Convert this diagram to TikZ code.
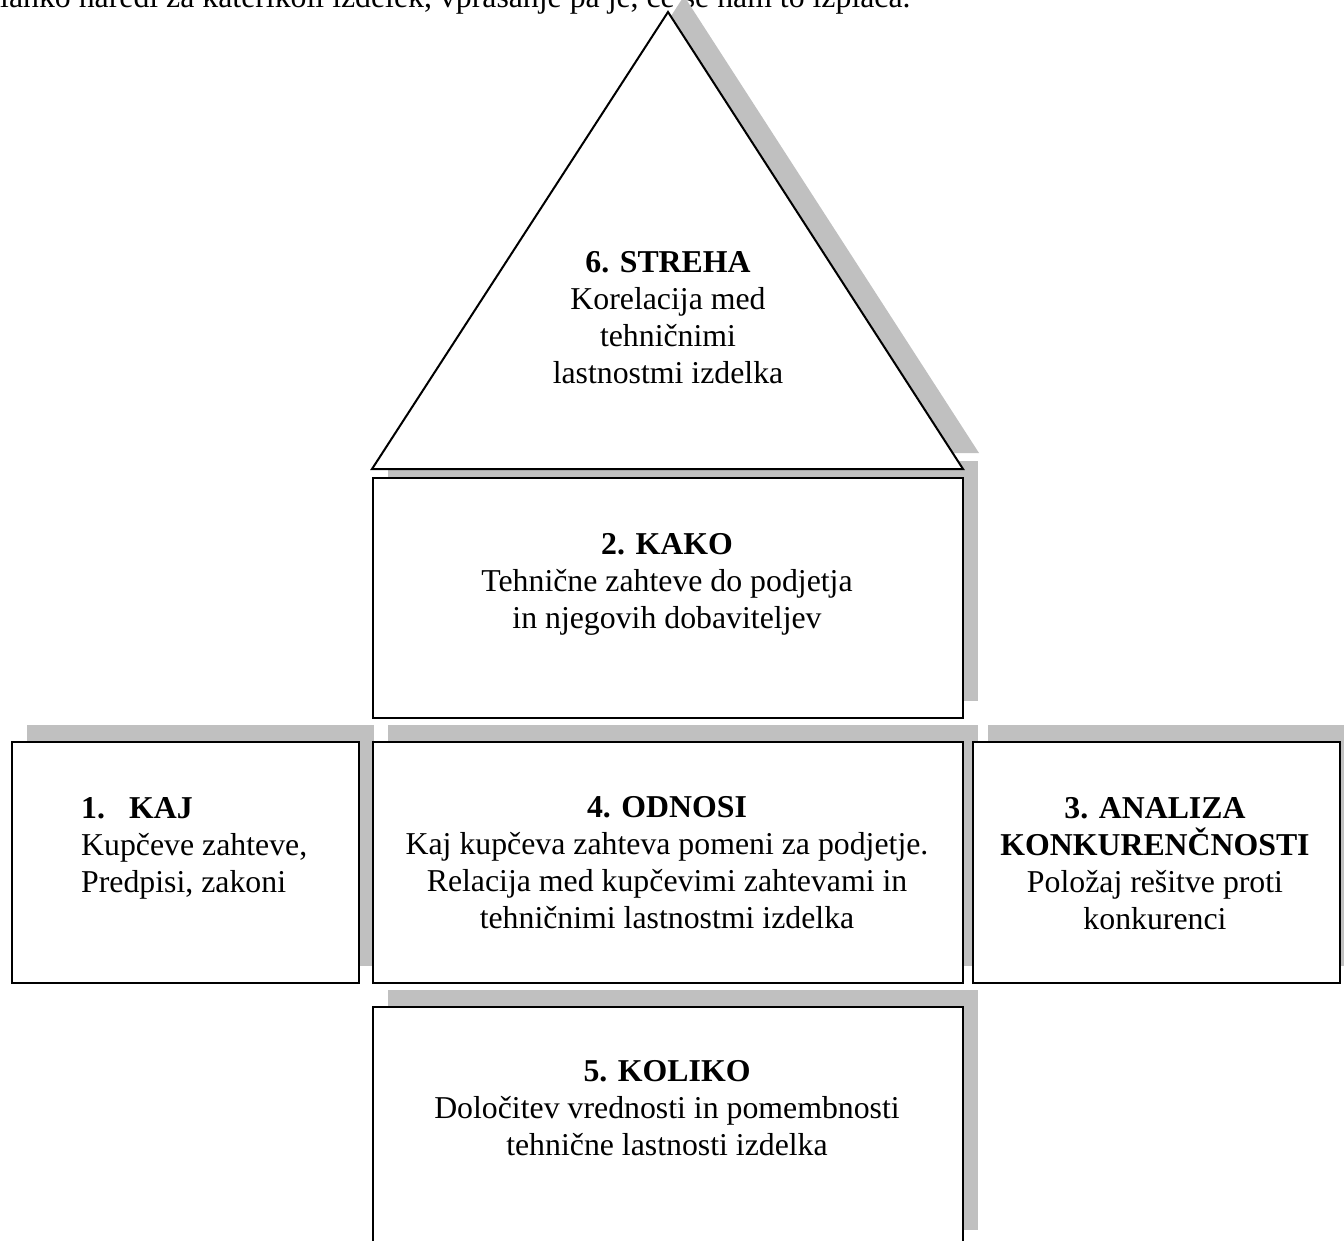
\documentclass[tikz,border=0pt]{standalone}
\usepackage{fontspec}
\setmainfont{Liberation Serif}
\definecolor{shadowgray}{RGB}{192,192,192}
\begin{document}
\begin{tikzpicture}[x=1pt,y=-1pt,
  shadowbox/.style={fill=shadowgray, draw=none, inner sep=0pt, anchor=north west},
  box/.style={draw=black, line width=2pt, fill=white, inner sep=0pt, anchor=north west},
  txt/.style={font=\fontsize{31.8}{36.7}\selectfont, align=center, inner sep=0pt, anchor=base},
  toptxt/.style={font=\fontsize{31.8}{36.7}\selectfont, inner sep=0pt, anchor=base west}]
\useasboundingbox (0,0) rectangle (1344,1240);
\begin{scope}
\clip (0,0) rectangle (1344,1240);
% clipped running text at the top
\node[toptxt] (topline) at (0,7) {lahko naredi za katerikoli izdelek, vprašanje pa je, če se nam to izplača.};
% shadows
\coordinate (sA) at (684,-4);
\coordinate (sB) at (979,453);
\coordinate (sC) at (388,453);
\fill[shadowgray] (sA) -- (sB) -- (sC) -- cycle;
\node[shadowbox, minimum width=590pt, minimum height=240pt] (kakoS) at (388,461) {};
\node[shadowbox, minimum width=347pt, minimum height=241pt] (kajS) at (27,725) {};
\node[shadowbox, minimum width=590pt, minimum height=241pt] (odnosiS) at (388,725) {};
\node[shadowbox, minimum width=367pt, minimum height=241pt] (analizaS) at (988,725) {};
\node[shadowbox, minimum width=590pt, minimum height=240pt] (kolikoS) at (388,990) {};
% roof
\coordinate (apex) at (668,12);
\coordinate (roofR) at (963,469);
\coordinate (roofL) at (372,469);
\draw[line width=2pt, fill=white, line join=miter] (apex) -- (roofR) -- (roofL) -- cycle;
% boxes
\node[box, minimum width=590pt, minimum height=240pt] (kako) at (372,477) {};
\node[box, minimum width=347pt, minimum height=241pt] (kaj) at (11,741) {};
\node[box, minimum width=590pt, minimum height=241pt] (odnosi) at (372,741) {};
\node[box, minimum width=367pt, minimum height=241pt] (analiza) at (972,741) {};
\node[box, minimum width=590pt, minimum height=240pt] (koliko) at (372,1006) {};
\end{scope}
% texts (anchor base = baseline of the last line)
\node[txt] (strehaT) at (668,383) {\textbf{6. STREHA}\\Korelacija med\\tehničnimi\\lastnostmi izdelka};
\node[txt] (kakoT) at (667,628) {\textbf{2. KAKO}\\Tehnične zahteve do podjetja\\in njegovih dobaviteljev};
\node[txt, align=left, anchor=base west] (kajT) at (81,892) {\textbf{\makebox[48pt][l]{1.}KAJ}\\Kupčeve zahteve,\\Predpisi, zakoni};
\node[txt] (odnosiT) at (667,928) {\textbf{4. ODNOSI}\\Kaj kupčeva zahteva pomeni za podjetje.\\Relacija med kupčevimi zahtevami in\\tehničnimi lastnostmi izdelka};
\node[txt] (analizaT) at (1155,929) {\textbf{3. ANALIZA}\\\textbf{KONKURENČNOSTI}\\Položaj rešitve proti\\konkurenci};
\node[txt] (kolikoT) at (667,1155) {\textbf{5. KOLIKO}\\Določitev vrednosti in pomembnosti\\tehnične lastnosti izdelka};
\end{tikzpicture}
\end{document}
